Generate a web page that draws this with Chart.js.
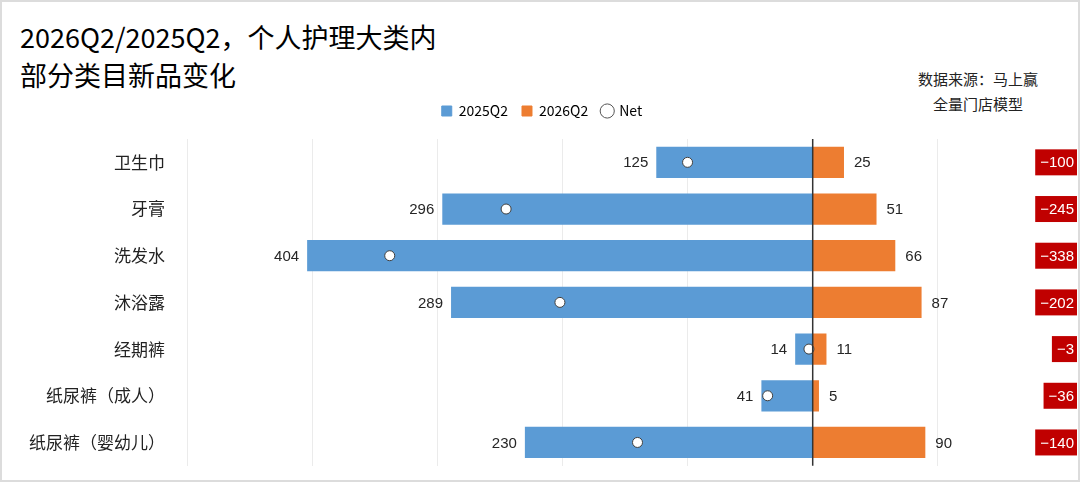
<!DOCTYPE html>
<html>
<head>
<meta charset="utf-8">
<script src="https://cdn.jsdelivr.net/npm/chart.js@4"></script>
<style>
    body { margin: 0; background: #fff; }
    #wrap { position: relative; width: 1080px; height: 482px; box-sizing: border-box; border: 2px solid #dcdcdc; overflow: hidden; }
    #title { position: absolute; left: 18px; top: 16px; font-family: "Noto Sans CJK SC"; font-size: 27px; line-height: 38px; color: #000; }
    #source { position: absolute; right: 30px; top: 64px; width: 140px; text-align: center; font-family: "Noto Sans CJK SC"; font-size: 15px; line-height: 25px; color: #222; }
    #newChart { position: absolute; left: -2px; top: -2px; }
</style>
</head>
<body>
<div id="wrap">
    <div id="title">2026Q2/2025Q2，个人护理大类内<br>部分类目新品变化</div>
    <div id="source">数据来源：马上赢<br>全量门店模型</div>
    <canvas id="newChart" width="1084" height="490"></canvas>
</div>
<script>
const categories = ['卫生巾', '牙膏', '洗发水', '沐浴露', '经期裤', '纸尿裤（成人）', '纸尿裤（婴幼儿）'];
const q2025 = [125, 296, 404, 289, 14, 41, 230];
const q2026 = [25, 51, 66, 87, 11, 5, 90];
const netValues = [-100, -245, -338, -202, -3, -36, -140];

const numFont = '15px "Liberation Sans", Arial, sans-serif';

// extra room below the legend
const legendGap = {
    id: 'legendGap',
    beforeUpdate(chart) {
        const lg = chart.legend;
        if (lg && !lg._gapDone) {
            const orig = lg.fit.bind(lg);
            lg.fit = function() { orig(); this.height += 11; };
            lg._gapDone = true;
        }
    }
};

// value labels, zero line and the red net boxes
const labelPlugin = {
    id: 'labelPlugin',
    afterDatasetsDraw(chart) {
        const ctx = chart.ctx;
        const area = chart.chartArea;
        const xScale = chart.scales.x;
        ctx.save();

        // zero line
        const x0 = xScale.getPixelForValue(0);
        ctx.strokeStyle = '#333';
        ctx.lineWidth = 1.5;
        ctx.beginPath();
        ctx.moveTo(x0, area.top);
        ctx.lineTo(x0, area.bottom);
        ctx.stroke();

        ctx.font = numFont;
        ctx.textBaseline = 'middle';
        ctx.fillStyle = '#262626';

        chart.getDatasetMeta(0).data.forEach((bar, i) => {
            ctx.textAlign = 'right';
            ctx.fillText(q2025[i], bar.x - 8, bar.y + 1);
        });
        chart.getDatasetMeta(1).data.forEach((bar, i) => {
            ctx.textAlign = 'left';
            ctx.fillText(q2026[i], bar.x + 10, bar.y + 1);
        });

        chart.getDatasetMeta(0).data.forEach((bar, i) => {
            const txt = '\u2212' + Math.abs(netValues[i]);
            const w = ctx.measureText(txt).width + 8;
            const right = area.right - 1;
            ctx.fillStyle = '#c00000';
            ctx.fillRect(right - w, bar.y - 13, w, 26);
            ctx.fillStyle = '#fff';
            ctx.textAlign = 'right';
            ctx.fillText(txt, right - 3, bar.y + 1);
        });
        ctx.restore();
    }
};

const chartCtx = document.getElementById('newChart').getContext('2d');
new Chart(chartCtx, {
    type: 'bar',
    data: {
        labels: categories,
        datasets: [{
            label: '2025Q2',
            data: q2025.map(v => -v),
            backgroundColor: '#5b9bd5',
            categoryPercentage: 1,
            barPercentage: 0.67,
            order: 2
        }, {
            label: '2026Q2',
            data: q2026,
            backgroundColor: '#ed7d31',
            categoryPercentage: 1,
            barPercentage: 0.67,
            order: 2
        }, {
            type: 'line',
            label: 'Net',
            data: netValues,
            showLine: false,
            stack: 'net',
            pointStyle: 'circle',
            pointRadius: 5,
            pointHoverRadius: 5,
            pointBackgroundColor: '#fff',
            pointBorderColor: '#404040',
            pointBorderWidth: 1,
            order: 1
        }]
    },
    options: {
        indexAxis: 'y',
        responsive: false,
        animation: false,
        layout: {
            padding: { top: 90, right: 0, bottom: 0, left: 0 }
        },
        plugins: {
            title: { display: false },
            tooltip: { enabled: false },
            legend: {
                position: 'top',
                labels: {
                    usePointStyle: true,
                    boxWidth: 10,
                    boxHeight: 10,
                    padding: 14,
                    color: '#222',
                    font: { family: '"Noto Sans CJK SC"', size: 14 },
                    generateLabels(chart) {
                        return chart.data.datasets.map((ds, i) => ({
                            text: ds.label,
                            fillStyle: ds.type === 'line' ? '#fff' : ds.backgroundColor,
                            strokeStyle: ds.type === 'line' ? '#555' : ds.backgroundColor,
                            lineWidth: 1,
                            pointStyle: ds.type === 'line' ? 'circle' : 'rect',
                            datasetIndex: i,
                            hidden: false
                        }));
                    }
                }
            }
        },
        scales: {
            x: {
                stacked: true,
                min: -500,
                max: 212,
                afterBuildTicks(scale) {
                    scale.ticks = scale.ticks.filter(t => t.value % 100 === 0 && t.value !== 0);
                },
                afterFit(scale) { scale.height = 0; },
                ticks: { display: false, stepSize: 100 },
                grid: { color: '#ebebeb', lineWidth: 1, drawTicks: false },
                border: { display: false }
            },
            y: {
                stacked: true,
                afterFit(scale) { scale.width = 187; },
                ticks: {
                    color: '#222',
                    padding: 14,
                    font: { family: '"Noto Sans CJK SC"', size: 17 }
                },
                grid: { display: false },
                border: { display: false }
            }
        }
    },
    plugins: [legendGap, labelPlugin]
});
</script>
</body>
</html>
